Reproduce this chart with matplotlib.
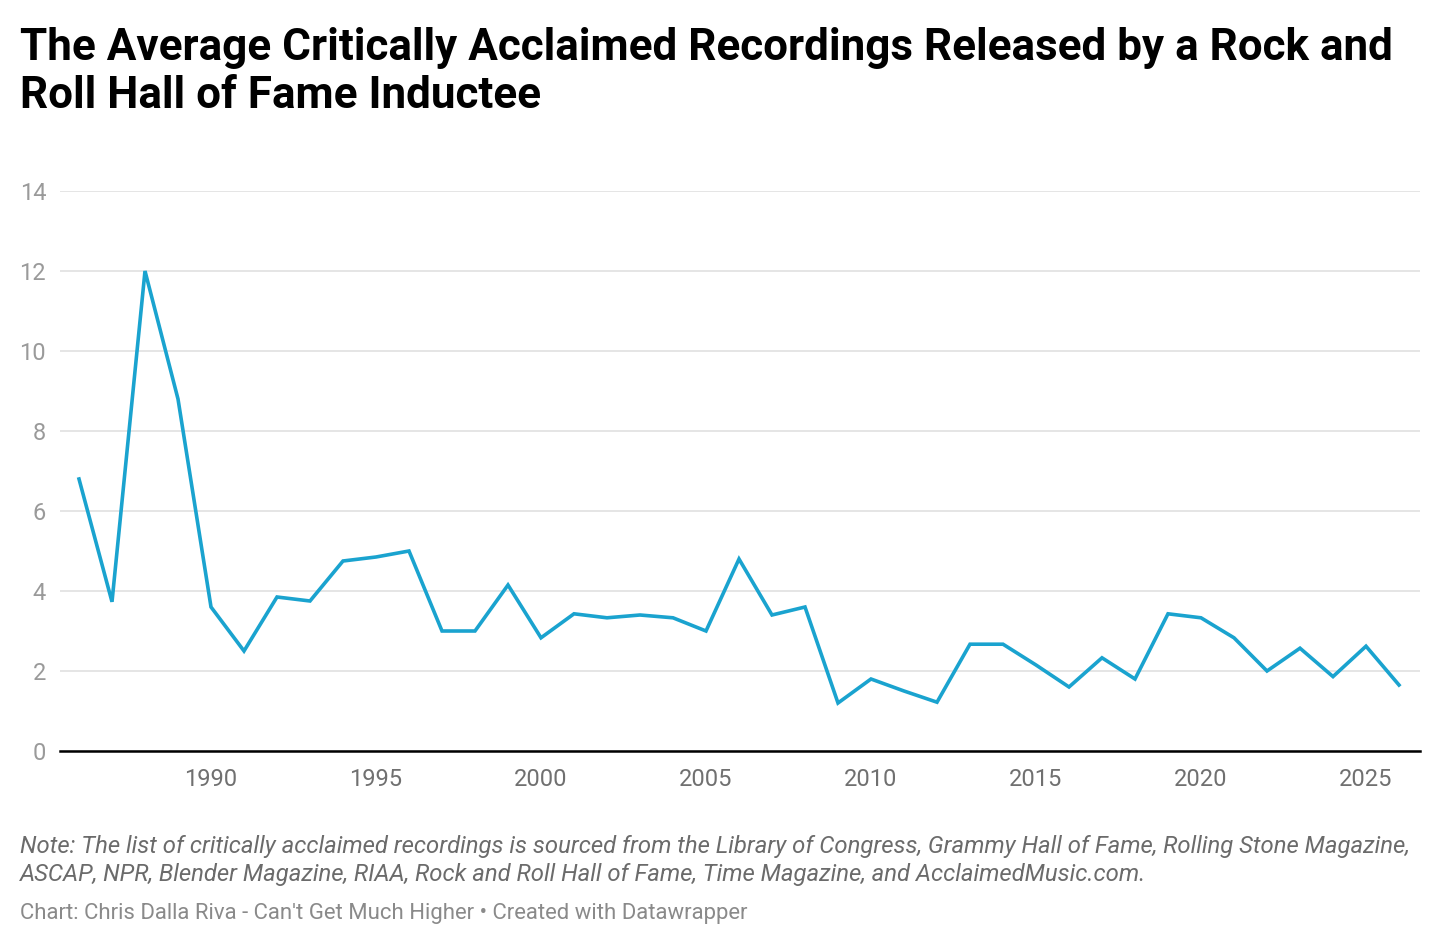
import matplotlib
matplotlib.use("Agg")
import matplotlib.pyplot as plt

years = list(range(1986, 2027))
values = [6.8, 3.73, 12.0, 8.8, 3.6, 2.5, 3.85, 3.75, 4.75, 4.85,
          5.0, 3.0, 3.0, 4.15, 2.83, 3.43, 3.33, 3.4, 3.33, 3.0,
          4.8, 3.4, 3.6, 1.2, 1.8, 1.5, 1.22, 2.67, 2.67, 2.15,
          1.6, 2.33, 1.8, 3.43, 3.33, 2.83, 2.0, 2.57, 1.86, 2.62,
          1.65]
y_ticks = [0, 2, 4, 6, 8, 10, 12, 14]
x_ticks = [1990, 1995, 2000, 2005, 2010, 2015, 2020, 2025]

title = "The Average Critically Acclaimed Recordings Released by a Rock and\nRoll Hall of Fame Inductee"
note = ("Note: The list of critically acclaimed recordings is sourced from the Library of Congress, Grammy Hall of Fame, Rolling Stone Magazine,\n"
        "ASCAP, NPR, Blender Magazine, RIAA, Rock and Roll Hall of Fame, Time Magazine, and AcclaimedMusic.com.")
credit = "Chart: Chris Dalla Riva - Can't Get Much Higher \u2022 Created with Datawrapper"

plt.rcParams['font.family'] = ['Roboto', 'DejaVu Sans']

W, H = 1440, 944
fig = plt.figure(figsize=(W / 100, H / 100), dpi=100)
ax = fig.add_axes([60 / W, 1 - 751 / H, (1420 - 60) / W, (751 - 191) / H])

ax.plot(years, values, color='#1aa3cf', lw=2.6, solid_joinstyle='miter', zorder=3)

ax.set_xlim(1986 - 19 / 33, 2026 + 21 / 33)
ax.set_ylim(0, 14)
ax.set_yticks(y_ticks)
ax.set_xticks(x_ticks)
ax.set_yticklabels([str(t) for t in y_ticks])
ax.set_xticklabels([str(t) for t in x_ticks])
ax.grid(axis='y', color='#e3e3e3', lw=1.3, zorder=0)
ax.grid(axis='x', visible=False)
for s in ['top', 'right', 'left']:
    ax.spines[s].set_visible(False)
ax.spines['bottom'].set_color('#000000')
ax.spines['bottom'].set_linewidth(1.8)
ax.spines['bottom'].set_zorder(4)
ax.tick_params(axis='y', length=0, pad=10, labelsize=17, labelcolor='#9a9a9a')
ax.tick_params(axis='x', length=0, pad=12.5, labelsize=17, labelcolor='#707070')

fig.text(20 / W, 1 - 27 / H, title, ha='left', va='top', fontsize=31.7,
         fontweight='bold', color='#000000', linespacing=1.17)
fig.text(20 / W, 1 - 835 / H, note, ha='left', va='top', fontsize=17.2,
         style='italic', color='#6b6b6b', linespacing=1.3)
fig.text(20 / W, 1 - 903 / H, credit, ha='left', va='top', fontsize=15.9,
         color='#8a8a8a')

fig.savefig('out.png', dpi=100, facecolor='white')
